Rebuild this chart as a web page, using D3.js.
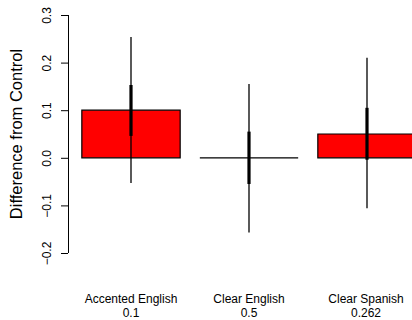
<!DOCTYPE html>
<html>
<head>
<meta charset="utf-8">
<script src="https://cdn.jsdelivr.net/npm/d3@7"></script>
<style>
  html, body { margin: 0; padding: 0; background: #fff; }
  svg { display: block; font-family: "Liberation Sans", Arial, Helvetica, sans-serif; }
</style>
</head>
<body>
<svg id="chart" width="412" height="320"></svg>
<script>
// Condition names and the second label line under each bar
const categories = ["Accented English", "Clear English", "Clear Spanish"];
const subLabels = ["0.1", "0.5", "0.262"];
// Mean difference from control for each condition
const values = [0.1, 0.0, 0.05];
// Inner (thick) interval bounds
const innerLow = [0.046, -0.055, -0.004];
const innerHigh = [0.153, 0.055, 0.105];
// Outer (thin) interval bounds
const outerLow = [-0.053, -0.157, -0.106];
const outerHigh = [0.254, 0.155, 0.21];
// Y axis ticks
const yTicks = [-0.2, -0.1, 0.0, 0.1, 0.2, 0.3];

const svg = d3.select("#chart");

const y = d3.scaleLinear().domain([-0.2, 0.3]).range([253, 15]);
// Bars of width 1 separated by a 0.2 gap; the last bar runs past the right edge
const x = d3.scaleBand().domain(categories).range([72, 426])
  .paddingInner(1 / 6).paddingOuter(1 / 12);
const cx = i => x(categories[i]) + x.bandwidth() / 2;

const plot = svg.append("g");

// Bars drawn as closed outlines so a zero-height bar still shows its border
plot.selectAll("path.bar")
  .data(values)
  .join("path")
  .attr("class", "bar")
  .attr("d", (d, i) => {
    const x0 = x(categories[i]), x1 = x0 + x.bandwidth();
    return `M${x0},${y(0)}H${x1}V${y(d)}H${x0}Z`;
  })
  .attr("fill", "#ff0000")
  .attr("stroke", "#000")
  .attr("stroke-width", 1.2);

// Outer intervals
plot.selectAll("line.outer")
  .data(values)
  .join("line")
  .attr("class", "outer")
  .attr("x1", (d, i) => cx(i)).attr("x2", (d, i) => cx(i))
  .attr("y1", (d, i) => y(outerLow[i])).attr("y2", (d, i) => y(outerHigh[i]))
  .attr("stroke", "#000").attr("stroke-width", 1.3);

// Inner intervals
plot.selectAll("line.inner")
  .data(values)
  .join("line")
  .attr("class", "inner")
  .attr("x1", (d, i) => cx(i)).attr("x2", (d, i) => cx(i))
  .attr("y1", (d, i) => y(innerLow[i])).attr("y2", (d, i) => y(innerHigh[i]))
  .attr("stroke", "#000").attr("stroke-width", 3.2);

// Y axis with rotated tick labels
const yAxis = d3.axisLeft(y).tickValues(yTicks).tickSize(7)
  .tickFormat(d => d3.format(".1f")(d).replace("-", "\u2212"));
const gy = svg.append("g").attr("transform", "translate(68,0)").call(yAxis);
gy.select(".domain").attr("d", "M0.5,253V15").attr("stroke", "#000").attr("fill", "none");
gy.selectAll(".tick line").attr("stroke", "#000");
gy.selectAll(".tick text")
  .attr("font-size", 12)
  .attr("fill", "#000")
  .attr("text-anchor", "middle")
  .attr("x", 0)
  .attr("y", 0)
  .attr("dy", "0.35em")
  .attr("transform", "translate(-21,0) rotate(-90)");

// Y axis title
svg.append("text")
  .attr("transform", "translate(22,134) rotate(-90)")
  .attr("text-anchor", "middle")
  .attr("font-size", 16.5)
  .attr("fill", "#000")
  .text("Difference from Control");

// X labels (two lines)
const xl = svg.append("g");
xl.selectAll("text.cat")
  .data(categories)
  .join("text")
  .attr("class", "cat")
  .attr("x", (d, i) => Math.min(cx(i), 366))
  .attr("y", 303)
  .attr("text-anchor", "middle")
  .attr("font-size", 12)
  .text(d => d);
xl.selectAll("text.sub")
  .data(subLabels)
  .join("text")
  .attr("class", "sub")
  .attr("x", (d, i) => Math.min(cx(i), 366))
  .attr("y", 317)
  .attr("text-anchor", "middle")
  .attr("font-size", 12)
  .text(d => d);
</script>
</body>
</html>
